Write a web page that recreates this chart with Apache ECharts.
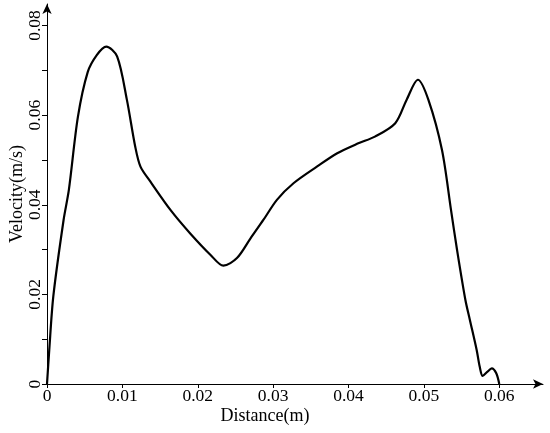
<!DOCTYPE html>
<html>
<head>
<meta charset="utf-8">
<script src="https://cdn.jsdelivr.net/npm/echarts@6/dist/echarts.min.js"></script>
<style>html,body{margin:0;padding:0;background:#fff}#c{width:550px;height:433px}</style>
</head>
<body>
<div id="c"></div>
<script>
const distance = [0, 0.0003, 0.00084, 0.0022, 0.0029, 0.0041, 0.0054, 0.0066, 0.00786, 0.0093, 0.0106, 0.0117, 0.0124, 0.0137, 0.0164, 0.0190, 0.0217, 0.0234, 0.0252, 0.0270, 0.0287, 0.0305, 0.0327, 0.0358, 0.0385, 0.0413, 0.0435, 0.0462, 0.0477, 0.0492, 0.0506, 0.0524, 0.0536, 0.0544, 0.0555, 0.0561, 0.0570, 0.0574, 0.0578, 0.0584, 0.0590, 0.0596, 0.0600];
const velocity = [0, 0.0076, 0.0196, 0.0366, 0.0433, 0.0596, 0.0696, 0.0734, 0.0753, 0.0731, 0.0634, 0.0530, 0.0485, 0.0452, 0.0388, 0.0336, 0.0288, 0.0264, 0.0281, 0.0325, 0.0366, 0.0411, 0.0448, 0.0485, 0.0515, 0.0537, 0.0552, 0.0582, 0.0634, 0.0679, 0.0634, 0.0522, 0.0388, 0.0299, 0.0188, 0.0143, 0.0076, 0.0039, 0.0018, 0.0027, 0.0035, 0.0024, 0];
const xTicks = [0, 0.01, 0.02, 0.03, 0.04, 0.05, 0.06];
const yTickValues = [0, 0.01, 0.02, 0.03, 0.04, 0.05, 0.06, 0.07, 0.08];
const yLabelValues = [0, 0.02, 0.04, 0.06, 0.08];

const font = '"Liberation Serif", "DejaVu Serif", serif';
const chart = echarts.init(document.getElementById('c'));
chart.setOption({
  animation: false,
  grid: { left: 47, right: 7, top: 4, bottom: 49, containLabel: false, outerBoundsMode: 'none' },
  xAxis: {
    type: 'value', min: 0, max: 0.0658,
    name: 'Distance(m)', nameLocation: 'middle', nameGap: 23, nameMoveOverlap: false,
    nameTextStyle: { fontFamily: font, fontSize: 18, color: '#000', padding: [0, 60, 0, 0] },
    axisLine: { lineStyle: { color: '#000', width: 1 }, symbol: ['none', 'arrow'], symbolSize: [7, 10] },
    axisTick: { show: true, length: 4, lineStyle: { color: '#000' }, customValues: xTicks },
    axisLabel: { fontFamily: font, fontSize: 17.5, color: '#000', margin: 3, customValues: xTicks,
      formatter: v => String(+v.toFixed(2)) },
    splitLine: { show: false }
  },
  yAxis: {
    type: 'value', min: 0, max: 0.0848,
    name: 'Velocity(m/s)', nameLocation: 'middle', nameGap: 21, nameRotate: 90, nameMoveOverlap: false,
    nameTextStyle: { fontFamily: font, fontSize: 18, color: '#000' },
    axisLine: { show: true, lineStyle: { color: '#000', width: 1 }, symbol: ['none', 'arrow'], symbolSize: [7, 10] },
    axisTick: { show: true, length: 5, lineStyle: { color: '#000' }, customValues: yTickValues },
    axisLabel: { fontFamily: font, fontSize: 17.5, color: '#000', rotate: 90, margin: 3, customValues: yLabelValues,
      formatter: v => String(+v.toFixed(2)) },
    splitLine: { show: false }
  },
  series: [{
    type: 'line',
    data: distance.map((d, i) => [d, velocity[i]]),
    smooth: 0.3,
    showSymbol: false,
    lineStyle: { color: '#000', width: 2.2 }
  }]
});
</script>
</body>
</html>
